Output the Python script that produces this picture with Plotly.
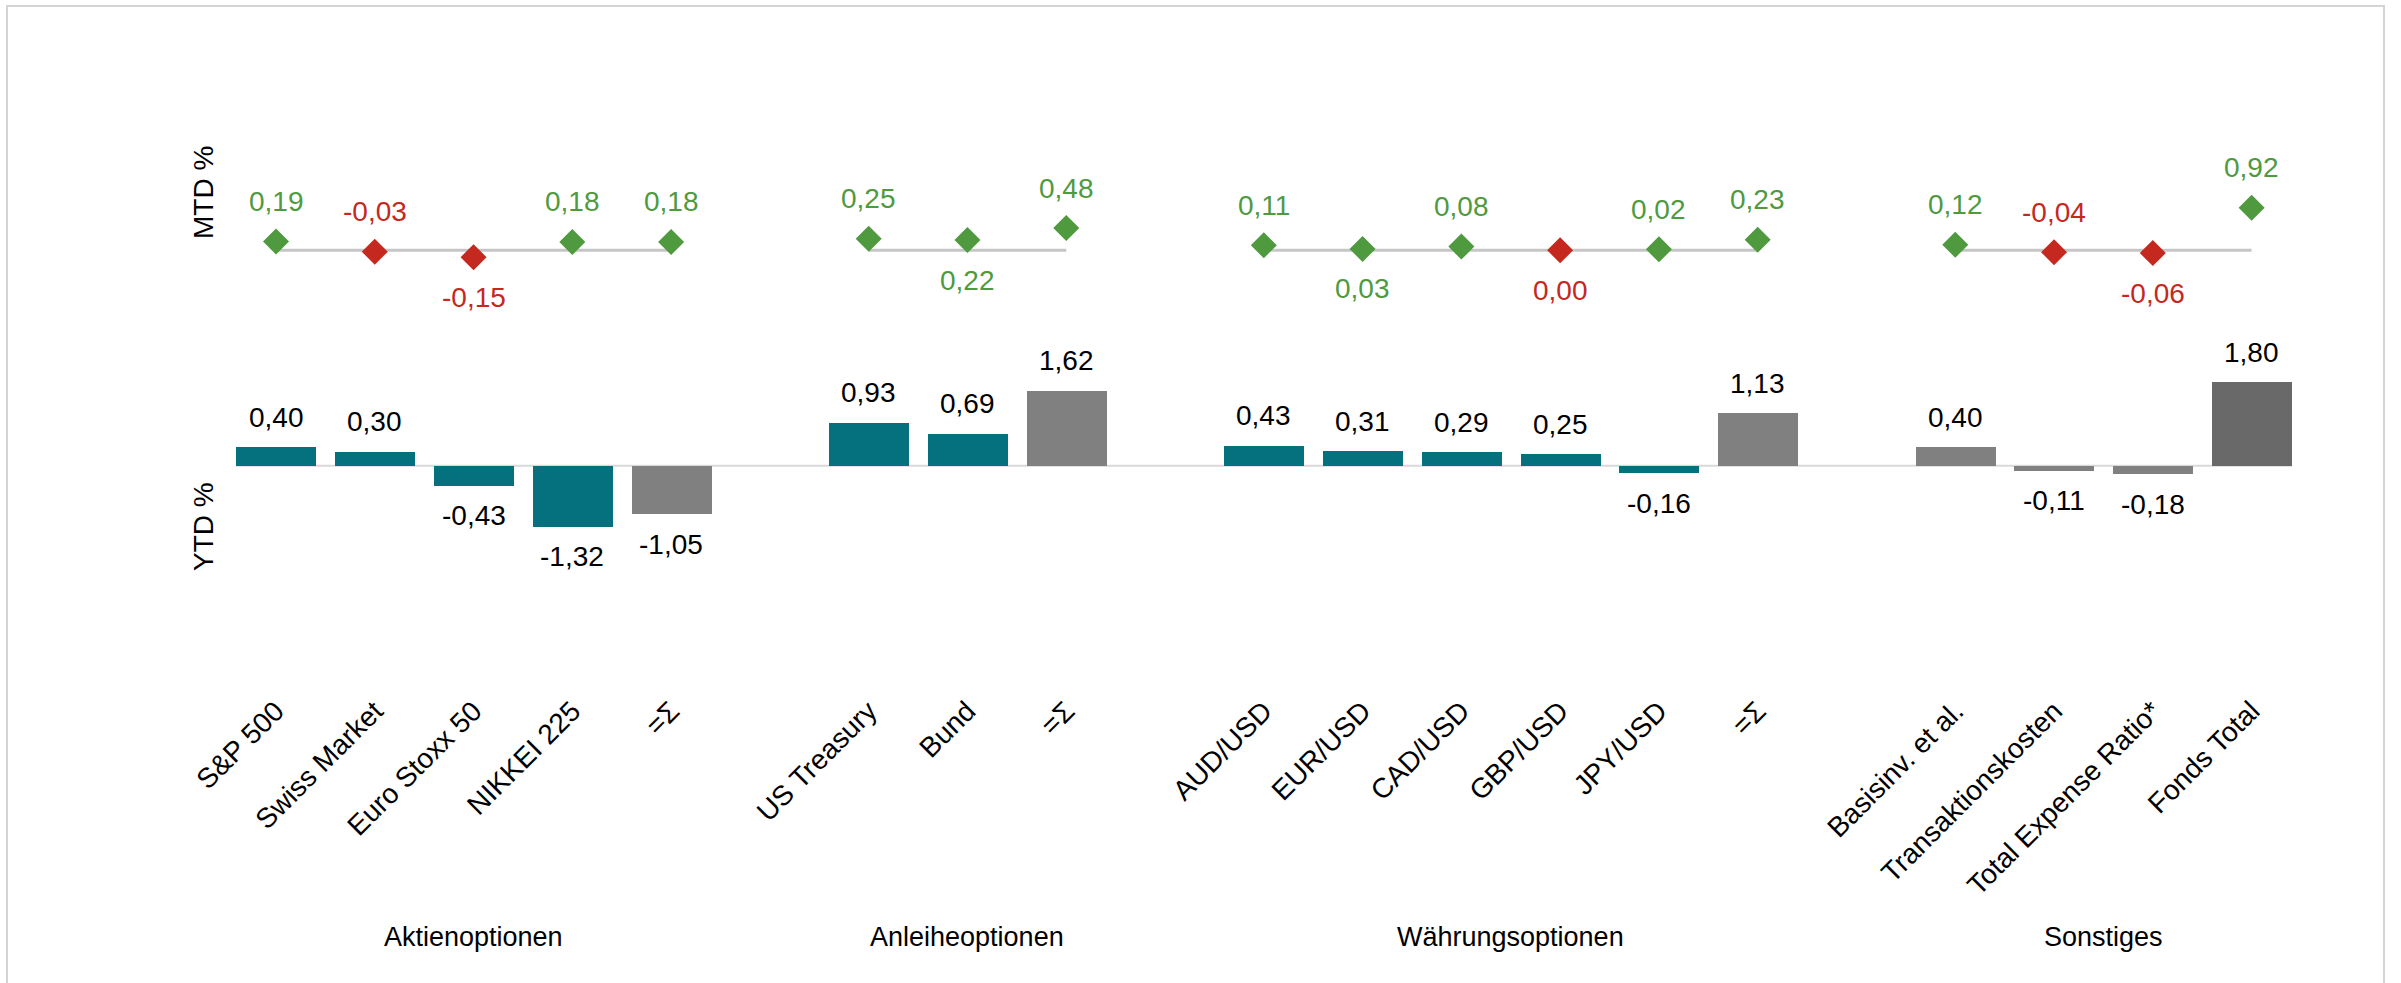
import plotly.graph_objects as go

# ---------------- data ----------------
groups = ["Aktienoptionen", "Anleiheoptionen", "Währungsoptionen", "Sonstiges"]
group_items = [
    ["S&P 500", "Swiss Market", "Euro Stoxx 50", "NIKKEI 225", "=Σ"],
    ["US Treasury", "Bund", "=Σ"],
    ["AUD/USD", "EUR/USD", "CAD/USD", "GBP/USD", "JPY/USD", "=Σ"],
    ["Basisinv. et al.", "Transaktionskosten", "Total Expense Ratio*", "Fonds Total"],
]
mtd = [0.19, -0.03, -0.15, 0.18, 0.18,
       0.25, 0.22, 0.48,
       0.11, 0.03, 0.08, 0.00, 0.02, 0.23,
       0.12, -0.04, -0.06, 0.92]
ytd = [0.40, 0.30, -0.43, -1.32, -1.05,
       0.93, 0.69, 1.62,
       0.43, 0.31, 0.29, 0.25, -0.16, 1.13,
       0.40, -0.11, -0.18, 1.80]

# ---------------- style ----------------
FONT = "Liberation Sans, Arial, sans-serif"
TEAL = "#05717f"
GRAY = "#808080"
DARK = "#696969"
GREEN = "#4f9a3e"
RED = "#c4281e"
W, H = 2401, 983
mtd_side = [1, 1, -1, 1, 1,
            1, -1, 1,
            1, -1, 1, -1, 1, 1,
            1, 1, -1, 1]

# slot positions (one empty slot between groups)
xs, labels, group_centers, group_of = [], [], [], []
pos = 0
for gi, items in enumerate(group_items):
    start = pos
    for it in items:
        xs.append(pos)
        labels.append(it)
        group_of.append(gi)
        pos += 1
    group_centers.append((start + pos - 1) / 2)
    pos += 1
n_slots = pos - 1

bar_colors = []
for i, lab in enumerate(labels):
    if i == len(labels) - 1:
        bar_colors.append(DARK)
    elif lab == "=Σ" or group_of[i] == 3:
        bar_colors.append(GRAY)
    else:
        bar_colors.append(TEAL)

fmt = lambda v: f"{v:.2f}".replace(".", ",")

fig = go.Figure()

# MTD baseline lines per group
for gi, items in enumerate(group_items):
    gx = [x for x, g in zip(xs, group_of) if g == gi]
    fig.add_trace(go.Scatter(x=[gx[0], gx[-1]], y=[0, 0], mode="lines",
                             line=dict(color="#c6c6c6", width=3),
                             yaxis="y2", showlegend=False, hoverinfo="skip"))

# MTD diamonds
fig.add_trace(go.Scatter(
    x=xs, y=mtd, mode="markers", yaxis="y2", showlegend=False,
    marker=dict(symbol="diamond", size=20,
                color=[GREEN if v > 0 else RED for v in mtd],
                line=dict(width=0)),
))

# YTD bars
fig.add_trace(go.Bar(
    x=xs, y=ytd, width=0.81, showlegend=False,
    marker=dict(color=bar_colors, line=dict(width=0)),
))

annotations = []
for x, v, s in zip(xs, mtd, mtd_side):
    annotations.append(dict(x=x, y=v, xref="x", yref="y2", text=fmt(v),
                            showarrow=False, xanchor="center", yanchor="middle",
                            yshift=40 * s,
                            font=dict(family=FONT, size=28,
                                      color=GREEN if v > 0 else RED)))
for x, v in zip(xs, ytd):
    annotations.append(dict(x=x, y=v, xref="x", yref="y", text=fmt(v),
                            showarrow=False, xanchor="center", yanchor="middle",
                            yshift=30 if v >= 0 else -30,
                            font=dict(family=FONT, size=28, color="#000000")))
for gc, g in zip(group_centers, groups):
    annotations.append(dict(x=gc, y=1 - 937 / H, xref="x", yref="paper", text=g,
                            showarrow=False, xanchor="center", yanchor="middle",
                            font=dict(family=FONT, size=27, color="#000000")))
annotations.append(dict(x=203 / W, y=1 - 193 / H, xref="paper", yref="paper",
                        text="MTD %", textangle=-90, showarrow=False,
                        xanchor="center", yanchor="middle",
                        font=dict(family=FONT, size=28, color="#000000")))
annotations.append(dict(x=203 / W, y=1 - 527 / H, xref="paper", yref="paper",
                        text="YTD %", textangle=-90, showarrow=False,
                        xanchor="center", yanchor="middle",
                        font=dict(family=FONT, size=28, color="#000000")))

# geometry
px_unit = 46.3
slot_px = 98.78
x0_px = 276.0
x_left = x0_px - 0.5 * slot_px
x_right = x0_px + (n_slots + 0.5) * slot_px

ytd_zero = 465.8
ytd_rng = [-4.8, 2.5]
ytd_top = ytd_zero - ytd_rng[1] * px_unit
ytd_bot = ytd_zero - ytd_rng[0] * px_unit

mtd_zero = 250.3
mtd_rng = [-1.0, 1.5]
mtd_top = mtd_zero - mtd_rng[1] * px_unit
mtd_bot = mtd_zero - mtd_rng[0] * px_unit

shapes = [
    dict(type="line", xref="x", yref="y", x0=xs[0] - 0.405, x1=xs[-1] + 0.405,
         y0=0, y1=0, line=dict(color="#d9d9d9", width=2), layer="below"),
    dict(type="rect", xref="paper", yref="paper", x0=7 / W, x1=2384 / W,
         y0=-0.05, y1=1 - 6 / H, line=dict(color="#d4d4d4", width=2)),
]

fig.update_layout(
    width=W, height=H,
    margin=dict(l=0, r=0, t=0, b=0, autoexpand=False),
    paper_bgcolor="white", plot_bgcolor="white",
    font=dict(family=FONT, size=28, color="#000000"),
    bargap=0,
    xaxis=dict(domain=[x_left / W, x_right / W], range=[-0.5, n_slots + 0.5],
               tickmode="array", tickvals=xs, ticktext=labels, tickangle=-45,
               tickfont=dict(family=FONT, size=28, color="#000000"),
               showgrid=False, zeroline=False, showline=False, ticks="",
               anchor="y", automargin=False),
    yaxis=dict(domain=[1 - ytd_bot / H, 1 - ytd_top / H], range=ytd_rng,
               visible=False, showgrid=False, zeroline=False, automargin=False),
    yaxis2=dict(domain=[1 - mtd_bot / H, 1 - mtd_top / H], range=mtd_rng,
                visible=False, showgrid=False, zeroline=False, anchor="x",
                automargin=False),
    annotations=annotations,
    shapes=shapes,
)

fig.write_html("out.html", config={"displayModeBar": False},
               post_script="document.body.style.margin='0';")
